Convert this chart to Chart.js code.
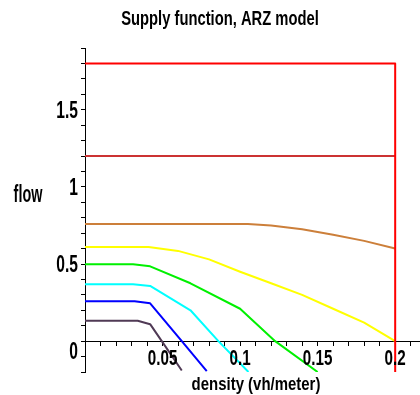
<!DOCTYPE html>
<html>
<head>
<meta charset="utf-8">
<script src="https://cdn.jsdelivr.net/npm/chart.js@4.4.1/dist/chart.umd.min.js"></script>
<style>
  html, body { margin: 0; padding: 0; background: #fff; }
  #wrap { width: 420px; height: 395px; }
</style>
</head>
<body>
<div id="wrap"><canvas id="grafico"></canvas></div>
<script>
// densidades (vh/meter) e fluxos
const redTopX = [0, 0.2, 0.2];
const redTopY = [1.8, 1.8, -0.2];
const redX = [0, 0.2];
const redY = [1.2, 1.2];
const brownX = [0, 0.105, 0.12, 0.14, 0.16, 0.18, 0.2];
const brownY = [0.76, 0.76, 0.75, 0.725, 0.69, 0.65, 0.60];
const yellowX = [0, 0.041, 0.06, 0.08, 0.1, 0.12, 0.14, 0.16, 0.18, 0.2];
const yellowY = [0.61, 0.61, 0.585, 0.53, 0.45, 0.375, 0.30, 0.21, 0.12, 0];
const greenX = [0, 0.031, 0.042, 0.068, 0.1, 0.1226, 0.15];
const greenY = [0.498, 0.498, 0.485, 0.375, 0.21, 0, -0.2];
const cyanX = [0, 0.031, 0.042, 0.068, 0.086, 0.1054];
const cyanY = [0.368, 0.368, 0.358, 0.2, 0, -0.2];
const blueX = [0, 0.032, 0.042, 0.0624, 0.0785];
const blueY = [0.258, 0.258, 0.245, 0, -0.195];
const purpleX = [0, 0.034, 0.042, 0.0495, 0.0624];
const purpleY = [0.132, 0.132, 0.11, 0, -0.19];

// rótulos dos eixos
const xLabels = [0.05, 0.1, 0.15, 0.2];
const yLabels = [0, 0.5, 1, 1.5];

const FONTE = "'Liberation Sans', Arial, sans-serif";

function pontos(xs, ys) {
    return xs.map((x, i) => ({ x: x, y: ys[i] }));
}

function serie(xs, ys, cor) {
    return {
        data: pontos(xs, ys),
        borderColor: cor,
        borderWidth: 2,
        borderJoinStyle: "round",
        pointRadius: 0,
        tension: 0,
        fill: false
    };
}

// texto estreito e alto, como no gráfico do Maple
function escrever(ctx, texto, x, y, tamanho, sx, sy, alinhar) {
    ctx.save();
    ctx.translate(x, y);
    ctx.scale(sx, sy);
    ctx.font = "bold " + tamanho + "px " + FONTE;
    ctx.textAlign = alinhar || "center";
    ctx.textBaseline = "middle";
    ctx.fillStyle = "#000";
    ctx.fillText(texto, 0, 0);
    ctx.restore();
}

const textos = {
    id: "textos",
    afterDraw(chart) {
        const ctx = chart.ctx;
        const sx = chart.scales.x;
        const sy = chart.scales.y;
        escrever(ctx, "Supply function, ARZ model", 220, 20, 18, 0.82, 1.1);
        escrever(ctx, "flow", 28, 196, 20, 0.72, 1.15);
        escrever(ctx, "density (vh/meter)", 256, 385, 17, 0.88, 1.1);

        const y0 = sy.getPixelForValue(0);
        xLabels.forEach(v => {
            escrever(ctx, String(v), sx.getPixelForValue(v), y0 + 18, 19, 0.8, 1.2);
        });
        yLabels.forEach(v => {
            const py = sy.getPixelForValue(v) + (v === 0 ? 11 : 2);
            escrever(ctx, String(v), 78, py, 19, 0.82, 1.22, "right");
        });
    }
};

const canvasGrafico = document.getElementById("grafico");

new Chart(canvasGrafico, {
    type: "line",
    data: {
        datasets: [
            serie(redTopX, redTopY, "#ff0000"),
            serie(redX, redY, "#cc3333"),
            serie(brownX, brownY, "#cc7f3a"),
            serie(yellowX, yellowY, "#ffff00"),
            serie(greenX, greenY, "#00f000"),
            serie(cyanX, cyanY, "#00ffff"),
            serie(blueX, blueY, "#0000ff"),
            serie(purpleX, purpleY, "#503a55")
        ]
    },
    options: {
        responsive: true,
        maintainAspectRatio: false,
        animation: false,
        layout: {
            padding: { top: 48, bottom: 23, left: 0, right: 0 }
        },
        plugins: {
            legend: { display: false },
            title: { display: false },
            tooltip: { enabled: false }
        },
        scales: {
            x: {
                type: "linear",
                min: 0,
                max: 0.216,
                position: { y: 0 },
                afterFit(scale) {
                    scale.paddingLeft = 0;
                    scale.paddingRight = 0;
                },
                grid: {
                    drawOnChartArea: false,
                    drawTicks: true,
                    tickLength: 4,
                    color: "#000"
                },
                border: { display: true, color: "#000", width: 1 },
                ticks: {
                    display: false,
                    stepSize: 0.01,
                    maxTicksLimit: 100,
                    includeBounds: false,
                    autoSkip: false
                }
            },
            y: {
                type: "linear",
                min: -0.2,
                max: 1.9,
                afterFit(scale) {
                    scale.width = 85;
                    scale.paddingTop = 0;
                    scale.paddingBottom = 0;
                },
                grid: {
                    drawOnChartArea: false,
                    drawTicks: true,
                    tickLength: 4,
                    color: "#000"
                },
                border: { display: true, color: "#000", width: 1 },
                ticks: {
                    display: false,
                    stepSize: 0.1,
                    maxTicksLimit: 100,
                    includeBounds: false,
                    autoSkip: false
                }
            }
        }
    },
    plugins: [textos]
});
</script>
</body>
</html>
